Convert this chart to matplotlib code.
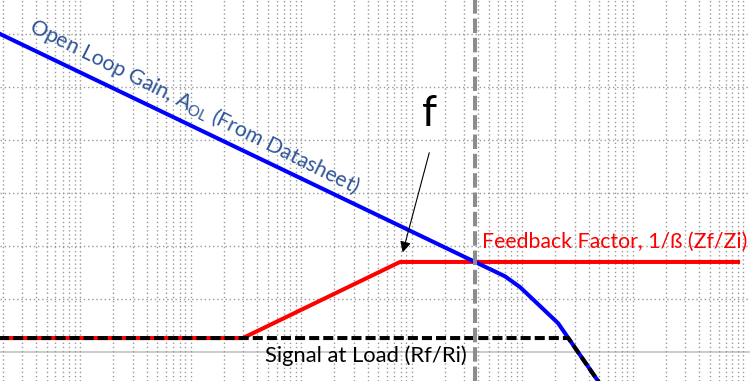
import matplotlib.pyplot as plt
from matplotlib.ticker import LogLocator, NullFormatter

# Bode sketch: open loop gain vs feedback factor (log frequency, dB)
aol_freq = [1.5, 37.6e3, 70e3, 96e3, 212e3, 510e3]
aol_db = [122.0, 34.0, 28.6, 24.5, 10.9, -12.1]

fb_freq = [1.5, 298, 7.87e3, 9.4e6]
fb_db = [5.3, 5.3, 34.0, 34.0]

load_freq = [1.5, 262e3, 510e3]
load_db = [5.3, 5.3, -12.1]

f_cross = 37.6e3
db_grid = [20, 40, 60, 80, 100, 120]

fig = plt.figure(figsize=(7.5, 3.81), dpi=100)
ax = fig.add_axes([0, 0, 1, 1])
ax.set_xscale('log')
ax.set_xlim(1.888, 1.156e7)
ax.set_ylim(-10.9, 132.8)

grid_style = dict(color='#9a9a9a', lw=1.0, linestyle=(0, (1, 2)))
ax.xaxis.set_major_locator(LogLocator(base=10))
ax.xaxis.set_minor_locator(LogLocator(base=10, subs=range(2, 10)))
ax.xaxis.set_minor_formatter(NullFormatter())
ax.set_yticks(db_grid)
ax.grid(True, which='both', axis='x', **grid_style)
ax.grid(True, which='major', axis='y', **grid_style)
ax.tick_params(which='both', length=0, labelbottom=False, labelleft=False)
for s in ax.spines.values():
    s.set_visible(False)

ax.axhline(0, color='#c8c8c8', lw=1.3, zorder=1)

ax.plot(fb_freq, fb_db, color='#ff0000', lw=2.9, solid_capstyle='butt', zorder=3)
ax.plot(aol_freq, aol_db, color='#0000ff', lw=2.9, zorder=4)
ax.plot(load_freq, load_db, color='black', lw=2.9, dashes=(2.5, 1.0), zorder=5)
ax.axvline(f_cross, color='#8c8c8c', lw=2.9, dashes=(3.6, 1.2), zorder=6)

font = 'Lato'
ax.text(107.7, 92.5, r'Open Loop Gain, A$_{\mathregular{OL}}$ (From Datasheet)',
        color='#2f5597', fontsize=15.3, family=font, rotation=-26.5,
        rotation_mode='anchor', ha='center', va='center', zorder=7)
ax.text(43.4e3, 39.2, 'Feedback Factor, 1/ß (Zf/Zi)', color='#ff0000',
        fontsize=15.3, family=font, ha='left', va='baseline', zorder=7)
ax.text(3838, -3.7, 'Signal at Load (Rf/Ri)', color='black',
        fontsize=15.8, family=font, ha='center', va='baseline', zorder=7)
ax.text(14690, 89.8, 'f', color='black', fontsize=31, family=font,
        ha='center', va='center', zorder=7)
ax.annotate('', xy=(8200, 36.6), xytext=(14690, 76.2),
            arrowprops=dict(arrowstyle='-|>', color='black', lw=0.8,
                            mutation_scale=16), zorder=7)

fig.savefig('out.png', dpi=100)
